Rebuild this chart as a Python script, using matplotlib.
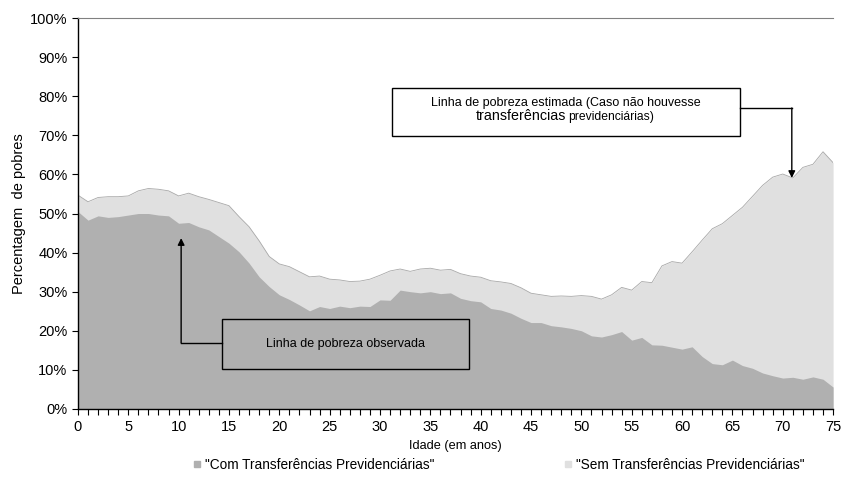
import numpy as np
import matplotlib
matplotlib.use("Agg")
import matplotlib.pyplot as plt
import matplotlib.ticker as mticker
from matplotlib.lines import Line2D
from matplotlib.patches import Rectangle

plt.rcParams["font.family"] = ["Liberation Sans", "DejaVu Sans"]

# idade (anos)
ages = np.arange(0, 76)

# % de pobres com transferências previdenciárias (linha observada)
com_transf = [50.5, 48.3, 49.4, 49.0, 49.2, 49.6, 50.0, 50.0, 49.6, 49.4,
              47.5, 47.7, 46.6, 45.8, 44.1, 42.4, 40.2, 37.3, 33.8, 31.3,
              29.2, 28.0, 26.6, 25.1, 26.2, 25.7, 26.3, 25.9, 26.3, 26.2,
              27.9, 27.8, 30.4, 30.0, 29.7, 30.0, 29.5, 29.7, 28.3, 27.7,
              27.4, 25.7, 25.3, 24.5, 23.2, 22.1, 22.1, 21.3, 21.0, 20.6,
              20.0, 18.7, 18.4, 19.0, 19.8, 17.6, 18.3, 16.4, 16.3, 15.8,
              15.3, 15.9, 13.4, 11.6, 11.3, 12.5, 11.1, 10.4, 9.2, 8.5,
              7.9, 8.1, 7.6, 8.2, 7.6, 5.6]

# % de pobres sem transferências previdenciárias (linha estimada)
sem_transf = [54.7, 53.0, 54.1, 54.3, 54.3, 54.5, 55.8, 56.4, 56.2, 55.8,
              54.5, 55.2, 54.3, 53.6, 52.8, 52.0, 49.2, 46.6, 43.0, 39.0,
              37.1, 36.4, 35.1, 33.8, 34.0, 33.2, 33.0, 32.6, 32.7, 33.2,
              34.2, 35.3, 35.8, 35.2, 35.8, 36.0, 35.5, 35.7, 34.6, 34.0,
              33.7, 32.8, 32.5, 32.1, 31.0, 29.6, 29.2, 28.8, 28.9, 28.8,
              29.0, 28.8, 28.1, 29.2, 31.1, 30.4, 32.6, 32.3, 36.6, 37.7,
              37.3, 40.2, 43.2, 46.1, 47.4, 49.5, 51.6, 54.4, 57.2, 59.3,
              60.1, 59.1, 61.8, 62.6, 65.8, 63.0]

labels = ['"Com Transferências Previdenciárias"',
          '"Sem Transferências Previdenciárias"']
DARK = "#b0b0b0"
LIGHT = "#e0e0e0"

fig = plt.figure(figsize=(8.66, 4.88), dpi=100)
ax = fig.add_axes([0.090, 0.162, 0.872, 0.801])

ax.fill_between(ages, 0, sem_transf, color=LIGHT, linewidth=0)
ax.plot(ages, sem_transf, color="#a8a8a8", linewidth=0.6)
ax.fill_between(ages, 0, com_transf, color=DARK, linewidth=0)

ax.set_xlim(0, 75)
ax.set_ylim(0, 100)
ax.xaxis.set_major_locator(mticker.MultipleLocator(5))
ax.xaxis.set_minor_locator(mticker.MultipleLocator(1))
ax.yaxis.set_major_locator(mticker.MultipleLocator(10))
ax.yaxis.set_major_formatter(mticker.PercentFormatter(decimals=0))
ax.tick_params(axis="both", which="both", direction="out", length=4,
               width=0.8, labelsize=10.5, colors="black")
ax.tick_params(axis="x", which="major", pad=4)
ax.spines["right"].set_visible(False)
ax.spines["top"].set_color("#808080")
ax.spines["top"].set_linewidth(0.8)
ax.spines["left"].set_linewidth(1.0)
ax.spines["bottom"].set_linewidth(1.0)

ax.set_xlabel("Idade (em anos)", fontsize=9.2, labelpad=4)
ax.set_ylabel("Percentagem  de pobres", fontsize=10.5, labelpad=3)

# caixa: linha estimada
ax.add_patch(Rectangle((31.2, 69.8), 34.6, 12.3, facecolor="white",
                       edgecolor="black", linewidth=1.0, zorder=4))
ax.text(48.5, 77.6, "Linha de pobreza estimada (Caso não houvesse",
        ha="center", va="baseline", fontsize=9, zorder=5)
ax.text(48.45, 73.9, "transferências", ha="right", va="baseline",
        fontsize=10.3, zorder=5)
ax.text(48.7, 73.9, "previdenciárias)", ha="left", va="baseline",
        fontsize=8.7, zorder=5)
ax.plot([65.8, 70.9], [77.0, 77.0], color="black", linewidth=1.0, zorder=4)
ax.annotate("", xy=(70.9, 59.1), xytext=(70.9, 77.0),
            arrowprops=dict(arrowstyle="-|>", color="black", lw=1.0,
                            mutation_scale=10, shrinkA=0, shrinkB=0),
            zorder=4)

# caixa: linha observada
ax.add_patch(Rectangle((14.3, 10.2), 24.5, 12.8, facecolor="none",
                       edgecolor="black", linewidth=1.0, zorder=4))
ax.text(26.55, 16.7, "Linha de pobreza observada", ha="center",
        va="center", fontsize=9, zorder=5)
ax.plot([10.25, 14.3], [16.9, 16.9], color="black", linewidth=1.0, zorder=4)
ax.annotate("", xy=(10.25, 43.7), xytext=(10.25, 16.9),
            arrowprops=dict(arrowstyle="-|>", color="black", lw=1.0,
                            mutation_scale=10, shrinkA=0, shrinkB=0),
            zorder=4)

handles = [Line2D([], [], marker="s", linestyle="none", markersize=5,
                  markerfacecolor=DARK, markeredgecolor=DARK),
           Line2D([], [], marker="s", linestyle="none", markersize=5,
                  markerfacecolor=LIGHT, markeredgecolor=LIGHT)]
fig.legend(handles, labels, loc="center left", ncol=2, frameon=False,
           bbox_to_anchor=(0.2223, 0.047), fontsize=9.8, handlelength=0.6,
           handletextpad=0.3, columnspacing=9.5, borderpad=0,
           borderaxespad=0)

fig.savefig("out.png", dpi=100, facecolor="white")
